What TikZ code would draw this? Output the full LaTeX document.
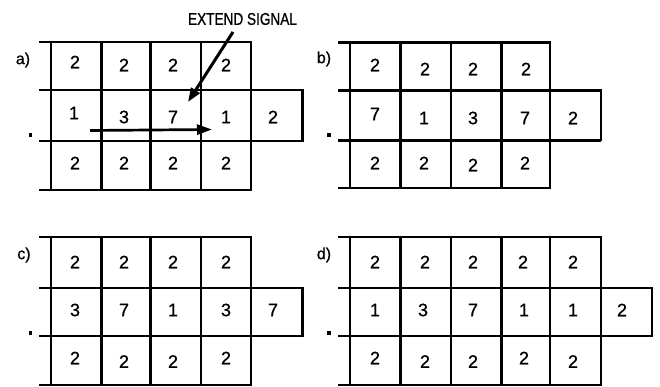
\documentclass[tikz,border=0pt]{standalone}
\usepackage{fontspec}
\setmainfont{Liberation Sans}[FakeBold=0.8]
\newfontfamily\narrowfont{Liberation Sans}[FakeStretch=0.8,FakeBold=0.8]
\usetikzlibrary{arrows.meta}
\begin{document}
\begin{tikzpicture}[x=1pt,y=-1pt,
  grid/.style={line width=2.7pt},
  num/.style={inner sep=0pt,font=\fontsize{18}{20}\selectfont},
  lbl/.style={inner sep=0pt,font=\fontsize{16}{18}\selectfont},
  dotmark/.style={fill=black,minimum size=3.2pt,inner sep=0pt},
  sigarrow/.style={line width=3pt,-{Triangle[length=14pt,width=10pt]}},
  movearrow/.style={line width=2.7pt,-{Triangle[length=15pt,width=10pt]}}]
\useasboundingbox (0,0) rectangle (660,387);

% ---------- panel a ----------
\draw[grid] (39,42) -- (251,42);
\draw[grid] (39,90) -- (302.5,90);
\draw[grid] (39,141) -- (302.5,141);
\draw[grid] (39,190) -- (251,190);
\foreach \x in {51,101.5,150.5,201,251} \draw[grid] (\x,41) -- (\x,191);
\draw[grid] (302.5,89) -- (302.5,142);
\node[lbl] (la) at (23,60) {a)};
\node[dotmark] (da) at (30.5,135) {};
\node[num] (a11) at (75,62) {2};
\node[num] (a12) at (124,65) {2};
\node[num] (a13) at (173,65) {2};
\node[num] (a14) at (226,65) {2};
\node[num] (a21) at (74,113) {1};
\node[num] (a22) at (124,117) {3};
\node[num] (a23) at (173,117) {7};
\node[num] (a24) at (226,117) {1};
\node[num] (a25) at (273,117) {2};
\node[num] (a31) at (75,163) {2};
\node[num] (a32) at (124,163) {2};
\node[num] (a33) at (173,163) {2};
\node[num] (a34) at (226,163) {2};
% extend signal and its propagation
\node[inner sep=0pt,font=\narrowfont\fontsize{17}{19}\selectfont] (sig) at (242.5,19) {EXTEND SIGNAL};
\coordinate (sigfrom) at (233,32);
\coordinate (sigto) at (188,102);
\draw[sigarrow] (sigfrom) -- (sigto);
\coordinate (movefrom) at (90,130.5);
\coordinate (moveto) at (212,129.5);
\draw[movearrow] (movefrom) -- (moveto);

% ---------- panel b ----------
\draw[grid] (338,42.5) -- (550,42.5);
\draw[grid] (338,90.5) -- (601,90.5);
\draw[grid] (338,140.5) -- (601,140.5);
\draw[grid] (338,188) -- (550,188);
\foreach \x in {350,400.5,451,501.5,550} \draw[grid] (\x,41.5) -- (\x,189);
\draw[grid] (601,89.5) -- (601,141.5);
\node[lbl] (lb) at (324,59) {b)};
\node[dotmark] (db) at (329,135) {};
\node[num] (b11) at (375,65) {2};
\node[num] (b12) at (425,69) {2};
\node[num] (b13) at (473,69) {2};
\node[num] (b14) at (526,69) {2};
\node[num] (b21) at (375,114) {7};
\node[num] (b22) at (424,118) {1};
\node[num] (b23) at (473,118) {3};
\node[num] (b24) at (525,118) {7};
\node[num] (b25) at (573,118) {2};
\node[num] (b31) at (375,163) {2};
\node[num] (b32) at (424,163) {2};
\node[num] (b33) at (473,165) {2};
\node[num] (b34) at (525,163) {2};

% ---------- panel c ----------
\draw[grid] (39,237) -- (251,237);
\draw[grid] (39,288) -- (302.5,288);
\draw[grid] (39,336) -- (302.5,336);
\draw[grid] (39,385) -- (251,385);
\foreach \x in {51,101.5,150.5,201,251} \draw[grid] (\x,236) -- (\x,386);
\draw[grid] (302.5,287) -- (302.5,337);
\node[lbl] (lc) at (24,255) {c)};
\node[dotmark] (dc) at (30.5,333) {};
\node[num] (c11) at (75,262) {2};
\node[num] (c12) at (124,262) {2};
\node[num] (c13) at (173,262) {2};
\node[num] (c14) at (226,262) {2};
\node[num] (c21) at (75,310) {3};
\node[num] (c22) at (124,310) {7};
\node[num] (c23) at (173,310) {1};
\node[num] (c24) at (226,310) {3};
\node[num] (c25) at (273,310) {7};
\node[num] (c31) at (75,358) {2};
\node[num] (c32) at (124,361.5) {2};
\node[num] (c33) at (173,361.5) {2};
\node[num] (c34) at (226,358) {2};

% ---------- panel d ----------
\draw[grid] (338,237) -- (601,237);
\draw[grid] (338,288) -- (652,288);
\draw[grid] (338,336) -- (652,336);
\draw[grid] (338,385) -- (601,385);
\foreach \x in {350,400.5,451,501.5,550,601} \draw[grid] (\x,236) -- (\x,386);
\draw[grid] (652,287) -- (652,337);
\node[lbl] (ld) at (324,255) {d)};
\node[dotmark] (dd) at (329,333) {};
\node[num] (d11) at (375,262) {2};
\node[num] (d12) at (425,262) {2};
\node[num] (d13) at (473,262) {2};
\node[num] (d14) at (523,262) {2};
\node[num] (d15) at (573,262) {2};
\node[num] (d21) at (375,310) {1};
\node[num] (d22) at (423,310) {3};
\node[num] (d23) at (473,310) {7};
\node[num] (d24) at (524,310) {1};
\node[num] (d25) at (573,310) {1};
\node[num] (d26) at (622,310) {2};
\node[num] (d31) at (375,358) {2};
\node[num] (d32) at (425,361.5) {2};
\node[num] (d33) at (473,361.5) {2};
\node[num] (d34) at (524,358) {2};
\node[num] (d35) at (573,361.5) {2};
\end{tikzpicture}
\end{document}
